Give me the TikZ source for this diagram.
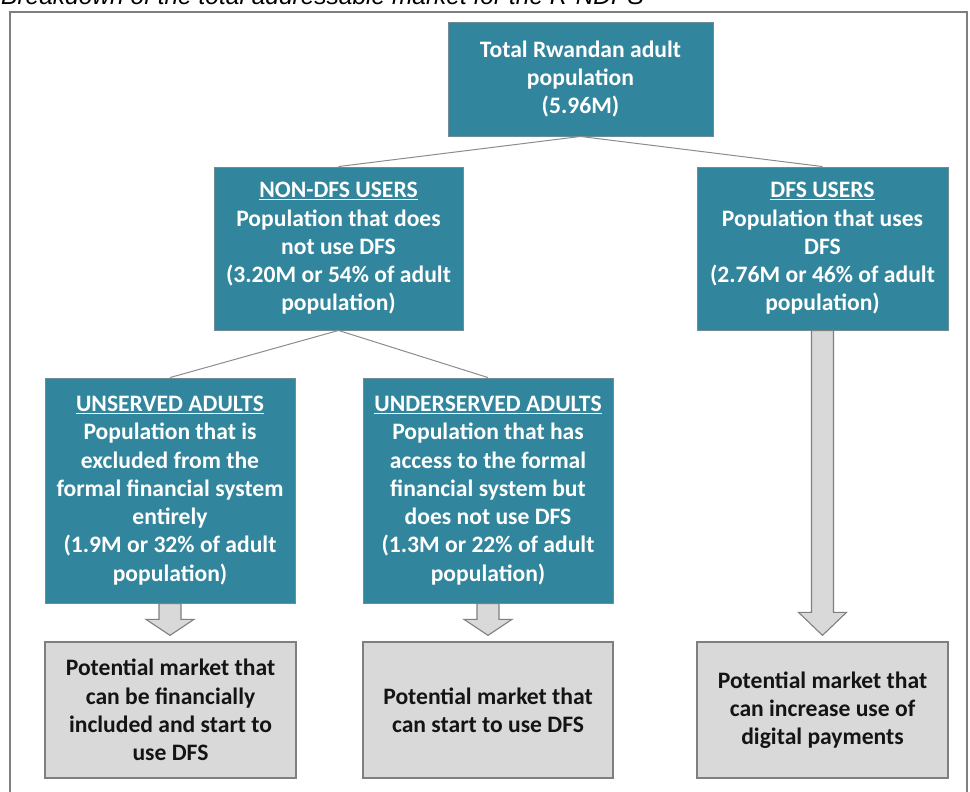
\documentclass[tikz,border=0pt]{standalone}
\usepackage{fontspec}
\setmainfont{Carlito}
\newfontfamily\captionfont{Liberation Sans}
\usetikzlibrary{calc}

\definecolor{boxteal}{HTML}{31859C}
\definecolor{boxedge}{HTML}{6F8C94}
\definecolor{marketgray}{HTML}{D9D9D9}
\definecolor{edgegray}{HTML}{7F7F7F}
\definecolor{linkgray}{HTML}{8C8C8C}
\definecolor{inkdark}{HTML}{141414}

\tikzset{
  boxtext/.style={font=\bfseries\fontsize{23.6}{28.3}\selectfont, align=center, inner sep=0pt},
  segbox/.style={boxtext, draw=boxedge, line width=0.9pt, fill=boxteal, text=white},
  marketbox/.style={boxtext, draw=edgegray, line width=1.3pt, fill=marketgray, text=inkdark},
  link/.style={draw=linkgray, line width=1pt},
  blockarr/.style={draw=edgegray, line width=1.1pt, fill=marketgray, line join=miter},
  frameline/.style={draw=edgegray, line width=1.3pt}
}

% hollow block arrow from the bottom of #1 to the top of #2, head length #3
\newcommand\blockarrow[3]{%
  \path[blockarr] let \p1=(#1.south), \p2=(#2.north) in
    (\x1-11,\y1) -- (\x1-11,\y2+6+#3) -- (\x1-24,\y2+6+#3) -- (\x1,\y2+6)
    -- (\x1+24,\y2+6+#3) -- (\x1+11,\y2+6+#3) -- (\x1+11,\y1) -- cycle;}

\begin{document}
\begin{tikzpicture}[x=1pt,y=-1pt]
\useasboundingbox (0,0) rectangle (970,792);
\clip (0,0) rectangle (970,792);

% caption above the frame
\node[anchor=base west, inner sep=0pt, font=\captionfont\itshape\fontsize{24.5}{28}\selectfont]
  (caption) at (1,5) {Breakdown of the total addressable market for the R-NDPS};

% outer frame
\path[frameline] (10,12) rectangle (967,810);

% population segments
\node[segbox, minimum width=265pt, minimum height=114pt] (total) at (580.5,79)
  {Total Rwandan adult\\population\\(5.96M)};
\node[segbox, minimum width=249pt, minimum height=163pt] (nondfs) at (338.5,248.5)
  {\underline{NON-DFS USERS}\\Population that does\\not use DFS\\(3.20M or 54\% of adult\\population)};
\node[segbox, minimum width=251pt, minimum height=163pt] (dfs) at (822.5,248.5)
  {\underline{DFS USERS}\\Population that uses\\DFS\\(2.76M or 46\% of adult\\population)};
\node[segbox, minimum width=250pt, minimum height=225pt] (unserved) at (170,490.5)
  {\underline{UNSERVED ADULTS}\\Population that is\\excluded from the\\formal financial system\\entirely\\(1.9M or 32\% of adult\\population)};
\node[segbox, minimum width=250pt, minimum height=225pt] (underserved) at (488,490.5)
  {\underline{UNDERSERVED ADULTS}\\Population that has\\access to the formal\\financial system but\\does not use DFS\\(1.3M or 22\% of adult\\population)};

% potential markets
\node[marketbox, minimum width=251pt, minimum height=136pt] (mktA) at (170.5,710)
  {Potential market that\\can be financially\\included and start to\\use DFS};
\node[marketbox, minimum width=250pt, minimum height=136pt] (mktB) at (488,710)
  {Potential market that\\can start to use DFS};
\node[marketbox, minimum width=251pt, minimum height=136pt] (mktC) at (822.5,710)
  {Potential market that\\can increase use of\\digital payments};

% tree connectors
\path[link] (total.south) -- (nondfs.north);
\path[link] (total.south) -- (dfs.north);
\path[link] (nondfs.south) -- (unserved.north);
\path[link] (nondfs.south) -- (underserved.north);

% block arrows into the markets
\blockarrow{unserved}{mktA}{16}
\blockarrow{underserved}{mktB}{16}
\blockarrow{dfs}{mktC}{23}
\end{tikzpicture}
\end{document}
